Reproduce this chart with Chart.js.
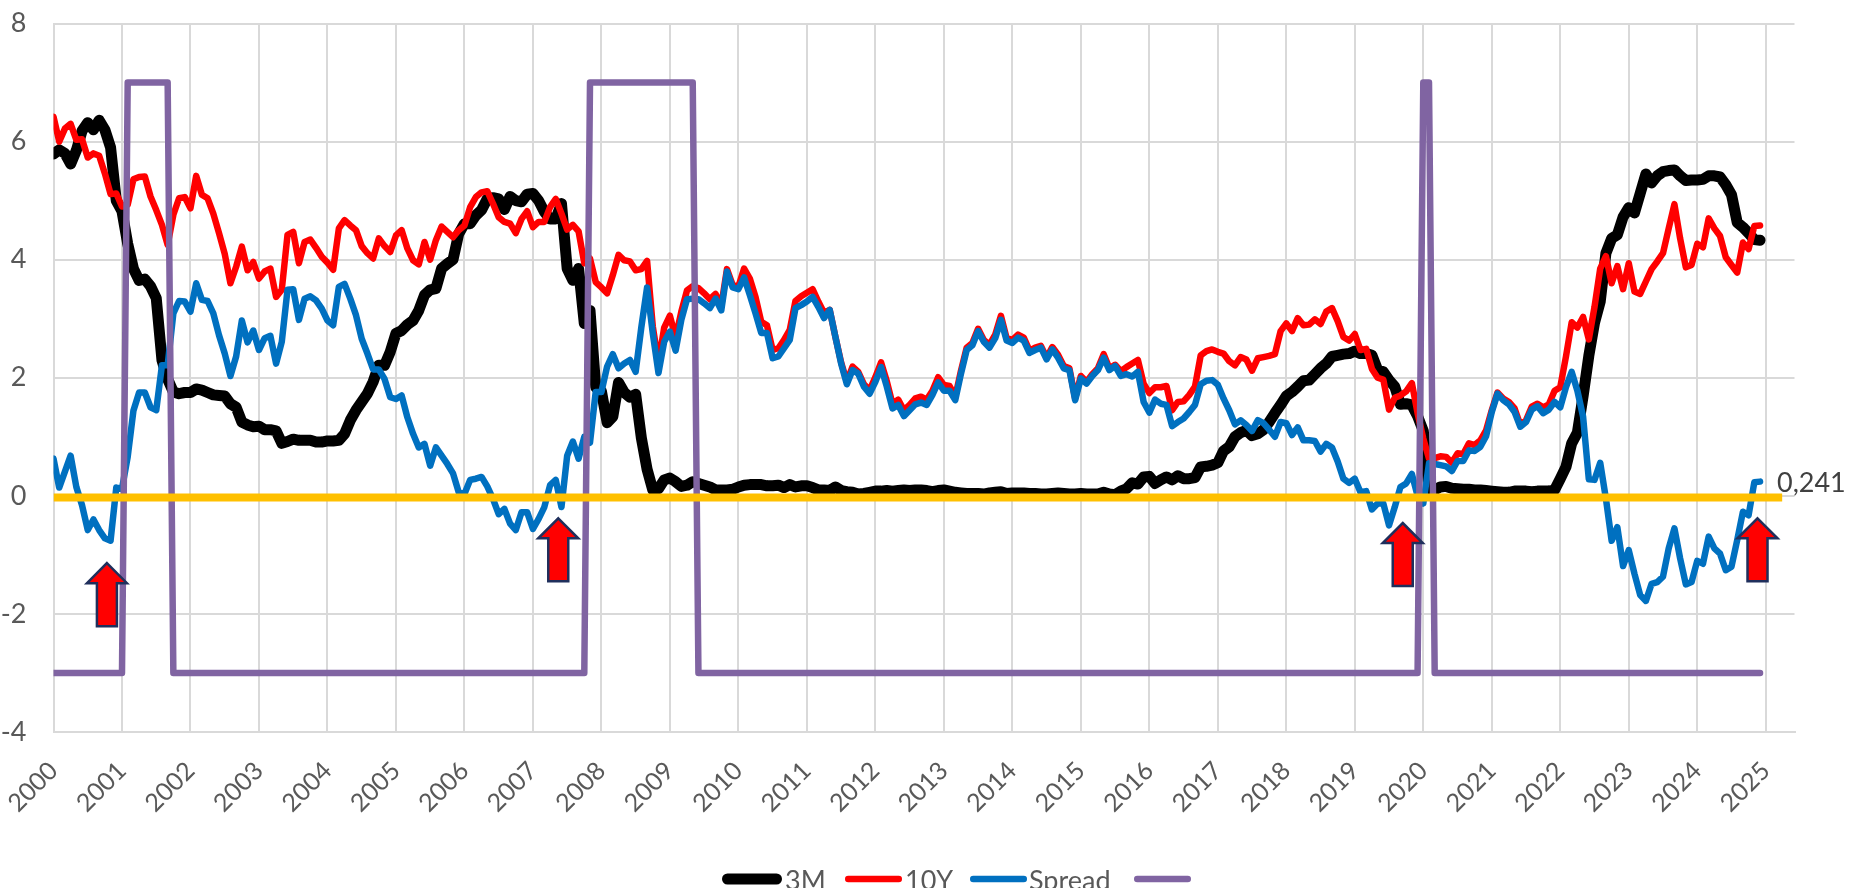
<!DOCTYPE html>
<html>
<head>
<meta charset="utf-8">
<title>3M 10Y Spread</title>
<script src="https://cdn.jsdelivr.net/npm/chart.js@4"></script>
<style>
  html, body { margin: 0; padding: 0; background: #fff; overflow: hidden; }
  #wrap { width: 1863px; height: 888px; }
</style>
</head>
<body>
<div id="wrap"><canvas id="chart" width="1863" height="888"></canvas></div>
<script>
// monthly values, one row per year, 2000 to 2024
const bill3M = [
  5.79,5.86,5.8,5.62,5.85,6.18,6.32,6.2,6.36,6.2,5.9,5.0,
  4.82,4.27,3.85,3.65,3.67,3.55,3.35,2.3,1.98,1.76,1.73,1.75,
  1.75,1.81,1.79,1.75,1.71,1.7,1.69,1.56,1.5,1.25,1.2,1.17,
  1.18,1.12,1.12,1.1,0.89,0.92,0.96,0.94,0.94,0.94,0.91,0.91,
  0.93,0.93,0.94,1.05,1.28,1.45,1.59,1.73,1.93,2.21,2.21,2.44,
  2.75,2.8,2.9,2.97,3.14,3.4,3.49,3.51,3.85,3.93,4.0,4.44,
  4.61,4.61,4.75,4.84,5.03,5.05,5.03,4.85,5.07,5.0,4.98,5.11,
  5.12,5.0,4.81,4.69,4.69,4.95,3.85,3.65,3.85,2.92,3.14,1.84,
  1.77,1.24,1.34,1.92,1.75,1.67,1.72,0.98,0.45,0.1,0.12,0.27,
  0.3,0.24,0.16,0.18,0.24,0.21,0.18,0.15,0.1,0.1,0.1,0.11,
  0.15,0.18,0.19,0.19,0.19,0.17,0.17,0.18,0.14,0.19,0.15,0.17,
  0.17,0.14,0.1,0.1,0.09,0.15,0.09,0.07,0.06,0.03,0.04,0.06,
  0.08,0.08,0.09,0.08,0.09,0.1,0.09,0.1,0.1,0.09,0.07,0.09,
  0.1,0.08,0.06,0.05,0.04,0.04,0.04,0.03,0.05,0.06,0.07,0.04,
  0.05,0.05,0.05,0.04,0.04,0.03,0.03,0.04,0.05,0.04,0.03,0.03,
  0.04,0.03,0.03,0.03,0.06,0.03,0.02,0.08,0.12,0.22,0.2,0.32,
  0.33,0.21,0.27,0.32,0.27,0.34,0.29,0.29,0.31,0.49,0.5,0.52,
  0.56,0.76,0.83,1.0,1.07,1.11,1.02,1.05,1.12,1.25,1.4,1.54,
  1.69,1.76,1.85,1.95,1.96,2.06,2.16,2.24,2.36,2.38,2.4,2.41,
  2.45,2.41,2.41,2.38,2.13,2.1,1.96,1.85,1.55,1.56,1.54,1.35,
  1.1,0.12,0.1,0.15,0.16,0.13,0.12,0.11,0.11,0.1,0.1,0.09,
  0.08,0.07,0.06,0.06,0.08,0.08,0.08,0.07,0.08,0.08,0.08,0.1,
  0.29,0.49,0.89,1.07,1.69,2.37,2.93,3.29,4.11,4.36,4.42,4.72,
  4.88,4.79,5.12,5.45,5.3,5.42,5.49,5.51,5.52,5.42,5.34,5.35,
  5.35,5.36,5.42,5.42,5.4,5.27,5.1,4.63,4.55,4.45,4.34,4.33
];

const note10Y = [
  6.42,6.0,6.22,6.3,6.03,6.04,5.73,5.8,5.76,5.46,5.11,5.12,
  4.9,4.93,5.36,5.4,5.41,5.07,4.84,4.59,4.25,4.76,5.04,5.06,
  4.87,5.42,5.1,5.04,4.78,4.45,4.1,3.6,3.88,4.22,3.82,3.96,
  3.68,3.8,3.85,3.37,3.49,4.42,4.47,3.94,4.3,4.34,4.2,4.05,
  3.95,3.83,4.53,4.67,4.58,4.5,4.23,4.11,4.02,4.36,4.23,4.13,
  4.41,4.5,4.19,3.99,3.92,4.3,4.0,4.33,4.56,4.47,4.38,4.5,
  4.58,4.89,5.06,5.14,5.16,4.95,4.72,4.64,4.61,4.45,4.69,4.82,
  4.55,4.64,4.64,4.89,5.03,4.78,4.51,4.59,4.48,3.94,4.02,3.62,
  3.53,3.43,3.74,4.08,3.99,3.97,3.82,3.84,3.98,2.87,2.25,2.85,
  3.05,2.68,3.12,3.48,3.55,3.52,3.43,3.33,3.42,3.22,3.84,3.57,
  3.54,3.85,3.68,3.37,2.95,2.89,2.47,2.5,2.64,2.81,3.3,3.38,
  3.44,3.5,3.29,3.1,3.15,2.69,2.26,1.93,2.19,2.1,1.89,1.79,
  2.01,2.26,1.94,1.56,1.63,1.45,1.54,1.65,1.68,1.63,1.78,2.01,
  1.88,1.86,1.68,2.12,2.51,2.59,2.83,2.64,2.56,2.73,3.05,2.67,
  2.64,2.73,2.68,2.46,2.51,2.54,2.34,2.52,2.39,2.2,2.16,1.65,
  2.03,1.93,2.06,2.16,2.4,2.16,2.22,2.11,2.18,2.24,2.3,1.9,
  1.74,1.84,1.84,1.86,1.45,1.59,1.6,1.71,1.85,2.38,2.45,2.48,
  2.44,2.41,2.28,2.21,2.35,2.31,2.12,2.33,2.35,2.37,2.4,2.79,
  2.92,2.79,3.01,2.89,2.9,2.99,2.91,3.12,3.18,2.96,2.69,2.63,
  2.74,2.47,2.49,2.15,2.0,1.97,1.46,1.66,1.7,1.77,1.91,1.4,
  0.97,0.63,0.64,0.67,0.66,0.56,0.72,0.71,0.89,0.86,0.94,1.11,
  1.45,1.75,1.65,1.59,1.48,1.2,1.28,1.51,1.56,1.5,1.55,1.78,
  1.84,2.36,2.94,2.85,3.03,2.65,3.2,3.85,4.06,3.6,3.89,3.5,
  3.94,3.46,3.42,3.63,3.84,3.97,4.11,4.53,4.94,4.36,3.87,3.91,
  4.27,4.21,4.7,4.53,4.4,4.04,3.91,3.78,4.29,4.18,4.57,4.58
];

const spread = [
  0.63,0.14,0.41,0.68,0.15,-0.16,-0.58,-0.4,-0.58,-0.72,-0.76,0.14,
  0.12,0.66,1.44,1.75,1.75,1.5,1.45,2.21,2.21,3.09,3.3,3.29,
  3.12,3.6,3.32,3.3,3.09,2.72,2.41,2.03,2.36,2.97,2.6,2.8,
  2.47,2.67,2.71,2.24,2.61,3.49,3.5,2.98,3.34,3.38,3.31,3.17,
  2.97,2.89,3.54,3.59,3.34,3.06,2.66,2.41,2.14,2.14,1.98,1.67,
  1.64,1.7,1.33,1.05,0.82,0.88,0.51,0.82,0.68,0.54,0.38,0.06,
  0.03,0.27,0.29,0.32,0.16,-0.05,-0.31,-0.22,-0.47,-0.58,-0.28,-0.28,
  -0.56,-0.39,-0.19,0.18,0.27,-0.19,0.68,0.92,0.63,1.0,0.9,1.76,
  1.76,2.19,2.4,2.16,2.24,2.3,2.1,2.86,3.53,2.75,2.08,2.61,
  2.78,2.46,2.98,3.33,3.34,3.33,3.26,3.18,3.34,3.14,3.8,3.53,
  3.5,3.7,3.4,3.09,2.76,2.76,2.33,2.36,2.5,2.64,3.18,3.23,
  3.29,3.37,3.2,3.01,3.15,2.69,2.24,1.89,2.13,2.07,1.85,1.73,
  1.93,2.18,1.85,1.48,1.54,1.35,1.45,1.55,1.58,1.54,1.71,1.92,
  1.78,1.78,1.62,2.07,2.47,2.55,2.79,2.61,2.51,2.67,2.98,2.63,
  2.59,2.68,2.63,2.42,2.47,2.51,2.31,2.48,2.34,2.16,2.13,1.62,
  1.99,1.9,2.03,2.13,2.34,2.13,2.2,2.03,2.06,2.02,2.1,1.59,
  1.41,1.63,1.56,1.54,1.18,1.25,1.31,1.42,1.54,1.89,1.95,1.96,
  1.88,1.65,1.45,1.21,1.28,1.2,1.1,1.28,1.23,1.12,1.0,1.25,
  1.23,1.03,1.16,0.94,0.94,0.93,0.75,0.88,0.82,0.58,0.29,0.22,
  0.29,0.06,0.08,-0.23,-0.13,-0.13,-0.5,-0.19,0.15,0.21,0.37,0.0,
  -0.13,0.55,0.54,0.52,0.5,0.42,0.59,0.59,0.77,0.76,0.83,1.01,
  1.42,1.73,1.62,1.55,1.42,1.17,1.25,1.46,1.52,1.4,1.46,1.59,
  1.5,1.84,2.1,1.78,1.34,0.28,0.27,0.56,-0.05,-0.76,-0.53,-1.19,
  -0.92,-1.32,-1.68,-1.78,-1.49,-1.46,-1.37,-0.89,-0.55,-1.06,-1.5,-1.46,
  -1.1,-1.15,-0.69,-0.89,-0.98,-1.26,-1.2,-0.75,-0.27,-0.33,0.23,0.241
];

// recession flag: 7 in recession, -3 otherwise
const recession = [
  -3,-3,-3,-3,-3,-3,-3,-3,-3,-3,-3,-3,
  -3,7,7,7,7,7,7,7,7,-3,-3,-3,
  -3,-3,-3,-3,-3,-3,-3,-3,-3,-3,-3,-3,
  -3,-3,-3,-3,-3,-3,-3,-3,-3,-3,-3,-3,
  -3,-3,-3,-3,-3,-3,-3,-3,-3,-3,-3,-3,
  -3,-3,-3,-3,-3,-3,-3,-3,-3,-3,-3,-3,
  -3,-3,-3,-3,-3,-3,-3,-3,-3,-3,-3,-3,
  -3,-3,-3,-3,-3,-3,-3,-3,-3,-3,7,7,
  7,7,7,7,7,7,7,7,7,7,7,7,
  7,7,7,7,7,-3,-3,-3,-3,-3,-3,-3,
  -3,-3,-3,-3,-3,-3,-3,-3,-3,-3,-3,-3,
  -3,-3,-3,-3,-3,-3,-3,-3,-3,-3,-3,-3,
  -3,-3,-3,-3,-3,-3,-3,-3,-3,-3,-3,-3,
  -3,-3,-3,-3,-3,-3,-3,-3,-3,-3,-3,-3,
  -3,-3,-3,-3,-3,-3,-3,-3,-3,-3,-3,-3,
  -3,-3,-3,-3,-3,-3,-3,-3,-3,-3,-3,-3,
  -3,-3,-3,-3,-3,-3,-3,-3,-3,-3,-3,-3,
  -3,-3,-3,-3,-3,-3,-3,-3,-3,-3,-3,-3,
  -3,-3,-3,-3,-3,-3,-3,-3,-3,-3,-3,-3,
  -3,-3,-3,-3,-3,-3,-3,-3,-3,-3,-3,-3,
  7,7,-3,-3,-3,-3,-3,-3,-3,-3,-3,-3,
  -3,-3,-3,-3,-3,-3,-3,-3,-3,-3,-3,-3,
  -3,-3,-3,-3,-3,-3,-3,-3,-3,-3,-3,-3,
  -3,-3,-3,-3,-3,-3,-3,-3,-3,-3,-3,-3,
  -3,-3,-3,-3,-3,-3,-3,-3,-3,-3,-3,-3
];

// the thick yellow line across zero
const baseYears = [2000, 2025.24];
const baseValues = [-0.03, -0.03];

// red arrows: tip position in chart values
const arrowYears = [2000.78, 2007.37, 2019.70, 2024.88];
const arrowTips = [-1.14, -0.38, -0.46, -0.38];

const lastSpreadLabel = '0,241';

const FONT = 'Lato, "Open Sans", sans-serif';
const toPoints = (values) => values.map((v, i) => ({ x: 2000 + i / 12, y: v }));

// arrows, value label and the legend row, drawn after the lines
const overlayPlugin = {
  id: 'overlay',
  afterDatasetsDraw(chart) {
    const { ctx, scales: { x, y } } = chart;
    ctx.save();

    // arrows pointing up
    ctx.fillStyle = '#ff0000';
    ctx.strokeStyle = '#1f2f5c';
    ctx.lineWidth = 2.5;
    ctx.lineJoin = 'miter';
    arrowYears.forEach((year, i) => {
      const px = x.getPixelForValue(year);
      const py = y.getPixelForValue(arrowTips[i]);
      ctx.beginPath();
      ctx.moveTo(px, py);
      ctx.lineTo(px + 20, py + 20);
      ctx.lineTo(px + 10, py + 20);
      ctx.lineTo(px + 10, py + 63);
      ctx.lineTo(px - 10, py + 63);
      ctx.lineTo(px - 10, py + 20);
      ctx.lineTo(px - 20, py + 20);
      ctx.closePath();
      ctx.fill();
      ctx.stroke();
    });

    // label at the end of the spread line
    ctx.font = '27px ' + FONT;
    ctx.fillStyle = '#404040';
    ctx.textAlign = 'left';
    ctx.textBaseline = 'alphabetic';
    ctx.fillText(lastSpreadLabel, 1777, 492);

    // legend, cut by the bottom of the picture like the original
    const slots = [
      { line: 722, end: 782, text: 785 },
      { line: 845, end: 902, text: 905 },
      { line: 970, end: 1027, text: 1029 },
      { line: 1134, end: 1191, text: 1195 }
    ];
    ctx.font = '27px ' + FONT;
    ctx.lineCap = 'round';
    slots.forEach((s, i) => {
      const ds = chart.data.datasets[i];
      ctx.strokeStyle = ds.borderColor;
      ctx.lineWidth = ds.borderWidth;
      ctx.beginPath();
      ctx.moveTo(s.line + ds.borderWidth / 2, 879);
      ctx.lineTo(s.end - ds.borderWidth / 2, 879);
      ctx.stroke();
      if (ds.label) {
        ctx.fillStyle = '#595959';
        ctx.fillText(ds.label, s.text, 890);
      }
    });
    ctx.restore();
  }
};

const lineStyle = { pointRadius: 0, tension: 0, borderCapStyle: 'round', borderJoinStyle: 'round' };

new Chart(document.getElementById('chart'), {
  type: 'line',
  data: {
    datasets: [
      { label: '3M', data: toPoints(bill3M), borderColor: '#000000', borderWidth: 11, order: 5, ...lineStyle },
      { label: '10Y', data: toPoints(note10Y), borderColor: '#ff0000', borderWidth: 6.5, order: 4, ...lineStyle },
      { label: 'Spread', data: toPoints(spread), borderColor: '#0070c0', borderWidth: 6.5, order: 3, ...lineStyle },
      { label: '', data: toPoints(recession), borderColor: '#8064a2', borderWidth: 6.5, order: 2, ...lineStyle },
      { label: 'base', data: baseYears.map((yr, i) => ({ x: yr, y: baseValues[i] })), borderColor: '#ffc000',
        borderWidth: 8, order: 1, pointRadius: 0, borderCapStyle: 'butt' }
    ]
  },
  plugins: [overlayPlugin],
  options: {
    responsive: false,
    animation: false,
    parsing: false,
    events: [],
    layout: { padding: { top: 23.5, right: 68.5, left: 0, bottom: 0 } },
    scales: {
      x: {
        type: 'linear',
        min: 2000,
        max: 2025.42,
        afterFit(s) { s.height = 156; s.paddingLeft = 0; s.paddingRight = 0; },
        border: { color: '#d9d9d9', width: 2 },
        grid: { color: '#d9d9d9', lineWidth: 2, drawTicks: false },
        ticks: {
          stepSize: 1,
          includeBounds: false,
          autoSkip: false,
          minRotation: 45,
          maxRotation: 45,
          padding: 24,
          color: '#595959',
          font: { family: FONT, size: 25 },
          callback: (v) => String(v)
        }
      },
      y: {
        min: -4,
        max: 8,
        afterFit(s) { s.width = 53.5; s.paddingTop = 0; s.paddingBottom = 0; },
        border: { color: '#d9d9d9', width: 2 },
        grid: { color: '#d9d9d9', lineWidth: 2, drawTicks: false },
        ticks: {
          stepSize: 2,
          padding: 27,
          color: '#595959',
          font: { family: FONT, size: 27 }
        }
      }
    },
    plugins: {
      legend: { display: false },
      tooltip: { enabled: false }
    }
  }
});
</script>
</body>
</html>
